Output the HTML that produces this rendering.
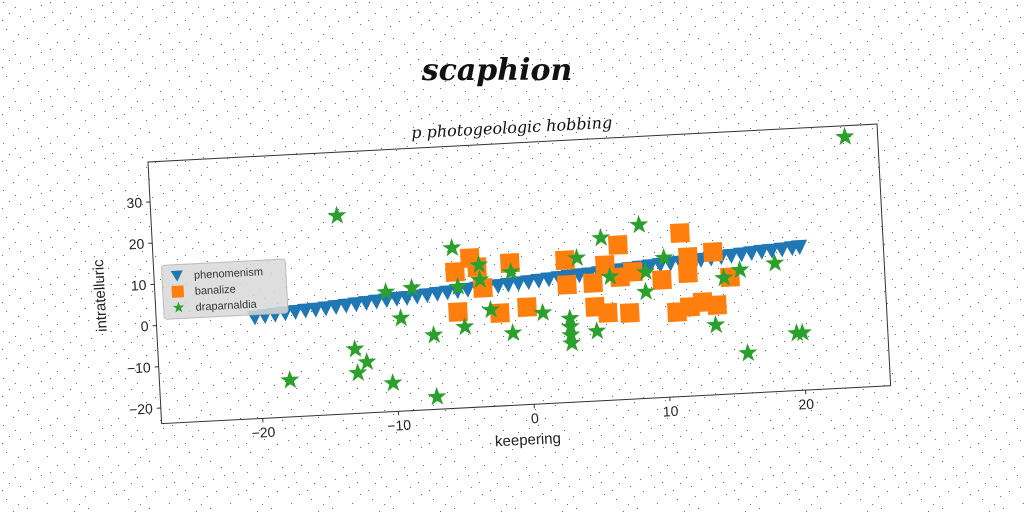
<!DOCTYPE html>
<html><head><meta charset="utf-8"><style>
html,body{margin:0;padding:0;background:#fff;}
svg{display:block;font-family:"Liberation Sans","DejaVu Sans",sans-serif;}
</style></head><body>
<svg id="chart" width="1024" height="512" viewBox="0 0 1024 512" xmlns="http://www.w3.org/2000/svg">
<defs>
<pattern id="noise" width="61" height="47" patternUnits="userSpaceOnUse">
<rect x="3" y="2" width="1" height="1" fill="#000"/><rect x="15" y="7" width="1" height="1" fill="#000"/>
<rect x="9" y="13" width="1" height="1" fill="#000"/><rect x="20" y="16" width="1" height="1" fill="#000"/>
<rect x="6" y="29" width="1" height="1" fill="#000"/><rect x="41" y="5" width="1" height="1" fill="#000"/>
<rect x="33" y="21" width="1" height="1" fill="#000"/><rect x="52" y="12" width="1" height="1" fill="#000"/>
<rect x="27" y="38" width="1" height="1" fill="#000"/><rect x="47" y="33" width="1" height="1" fill="#000"/>
<rect x="57" y="42" width="1" height="1" fill="#000"/><rect x="13" y="41" width="1" height="1" fill="#000"/>
<rect x="38" y="44" width="1" height="1" fill="#000"/><rect x="24" y="26" width="1" height="1" fill="#000"/>
<rect x="55" y="24" width="1" height="1" fill="#000"/><rect x="44" y="17" width="1" height="1" fill="#000"/>
<rect x="2" y="20" width="1" height="1" fill="#000"/><rect x="30" y="9" width="1" height="1" fill="#000"/>
<rect x="18" y="34" width="1" height="1" fill="#000"/><rect x="50" y="2" width="1" height="1" fill="#000"/>
</pattern>
</defs>
<rect width="1024" height="512" fill="#fff"/>
<rect width="1024" height="512" fill="url(#noise)" opacity="0.6"/>
<text x="497" y="80" text-anchor="middle" font-family="DejaVu Serif, serif" font-style="italic" font-weight="bold" font-size="30" fill="#111">scaphion</text>
<g id="axes" transform="translate(148,162) rotate(-2.98)"></g>
</svg>
<script>
const blueX=[-20.2,-19.45,-18.7,-17.95,-17.2,-16.45,-15.7,-14.95,-14.2,-13.45,-12.7,-11.95,-11.2,-10.45,-9.7,-8.95,-8.2,-7.45,-6.7,-5.95,-5.2,-4.45,-3.7,-2.95,-2.2,-1.45,-0.7,0.05,0.8,1.55,2.3,3.05,3.8,4.55,5.3,6.05,6.8,7.55,8.3,9.05,9.8,10.55,11.3,12.05,12.8,13.55,14.3,15.05,15.8,16.55,17.3,18.05,18.8,19.55,20.1];
const blueY=[1.0,1.2,1.4,1.6,1.8,2.0,2.1,2.3,2.5,2.7,2.9,3.1,3.3,3.5,3.7,3.8,4.0,4.2,4.4,4.6,4.8,5.0,5.2,5.4,5.5,5.7,5.9,6.1,6.3,6.5,6.7,6.9,7.1,7.2,7.4,7.6,7.8,8.0,8.2,8.4,8.6,8.8,8.9,9.1,9.3,9.5,9.7,9.9,10.1,10.3,10.5,10.6,10.8,11.0,11.15];
const orangeX=[-4.16,-5.31,-3.32,-3.68,-5.24,-2.17,-1.24,-0.15,2.82,2.87,4.79,5.74,6.77,6.79,7.77,4.85,5.77,7.38,9.87,11.37,11.87,11.8,10.85,11.82,12.79,13.82,13.72,14.88];
const orangeY=[12.4,9.2,5.0,10.1,-0.5,-1.3,10.7,-0.2,10.7,4.7,4.8,9.0,13.7,5.9,7.0,-1.0,-2.6,-2.9,4.7,15.8,9.9,6.0,-3.3,-2.2,-1.2,-2.1,10.8,4.5];
const greenX=[23.86,-13.77,-17.85,-12.95,-12.83,-12.12,-10.29,-7.11,-7.10,-9.46,-10.46,-8.54,-5.44,-3.53,-3.51,-5.15,-4.79,-2.82,-1.2,-1.28,0.99,2.97,2.97,2.97,3.0,3.70,4.90,5.54,6.06,8.39,8.64,8.7,10.1,13.66,14.43,15.64,15.91,18.23,19.58,20.0];
const greenY=[37.0,24.3,-14.9,-8.2,-14.0,-11.5,-16.9,-20.8,-5.8,-1.3,5.2,5.9,15.05,10.6,7.0,5.6,-4.2,-0.4,8.5,-6.3,-1.8,-3.5,-5.5,-7.5,-9.5,11.05,-6.9,15.6,6.1,18.3,2.0,6.8,10.0,-6.9,4.4,6.1,-14.1,7.3,-9.9,-9.9];
const xTicks=[-20,-10,0,10,20];
const yTicks=[-20,-10,0,10,20,30];
const seriesNames=["phenomenism","banalize","draparnaldia"];

const NS="http://www.w3.org/2000/svg";
const W=730,H=262,XMIN=-27.45,XMAX=26.27,YMIN=-23.8,YMAX=39.7;
const sx=x=>(x-XMIN)/(XMAX-XMIN)*W;
const sy=y=>(YMAX-y)/(YMAX-YMIN)*H;
const ax=document.getElementById('axes');
function mk(tag,attrs,parent){const e=document.createElementNS(NS,tag);for(const k in attrs)e.setAttribute(k,attrs[k]);(parent||ax).appendChild(e);return e;}
function starPts(cx,cy,R){let p=[];for(let i=0;i<10;i++){const r=i%2?R*0.4:R;const a=-Math.PI/2+i*Math.PI/5;p.push((cx+r*Math.cos(a)).toFixed(1)+','+(cy+r*Math.sin(a)).toFixed(1));}return p.join(' ');}

const bg=mk('rect',{x:0,y:0,width:W,height:H,fill:'none'});



const gB=mk('g',{});


blueX.forEach((x,i)=>{const cx=sx(x),cy=sy(blueY[i]);
 const t=mk('polygon',{points:`${cx-8},${cy-6} ${cx+8},${cy-6} ${cx},${cy+9}`,fill:'#1f77b4'},gB);
 
 });
const gO=mk('g',{});


orangeX.forEach((x,i)=>{const cx=sx(x),cy=sy(orangeY[i]);
 const r=mk('rect',{x:cx-9.5,y:cy-9.5,width:19,height:19,fill:'#ff7f0e'},gO);
 
 });
const gG=mk('g',{});


greenX.forEach((x,i)=>{const s=mk('polygon',{points:starPts(sx(x),sy(greenY[i]),10),fill:'#2ca02c'},gG);
 
 });

const fr=mk('rect',{x:0,y:0,width:W,height:H,fill:'none',stroke:'#333','stroke-width':1});



xTicks.forEach(v=>{const x=sx(v);
 mk('line',{x1:x,y1:H,x2:x,y2:H+4,stroke:'#333'});
 const t=mk('text',{x:x,y:H+19,'text-anchor':'middle','font-size':14,fill:'#222'});
 t.textContent=String(v).replace('-','\u2212');
 
 });
yTicks.forEach(v=>{const y=sy(v);
 mk('line',{x1:0,y1:y,x2:-4,y2:y,stroke:'#333'});
 const t=mk('text',{x:-8,y:y+5,'text-anchor':'end','font-size':14,fill:'#222'});
 t.textContent=String(v).replace('-','\u2212');
 
 });

const xl=mk('text',{x:W/2,y:H+40,'text-anchor':'middle','font-size':15,fill:'#222'});
xl.textContent='keepering';


const yl=mk('text',{x:0,y:0,'text-anchor':'middle','font-size':15,fill:'#222',transform:`translate(-50,${H/2}) rotate(-90)`});
yl.textContent='intratelluric';


const tt=mk('text',{x:W/2,y:-10,'text-anchor':'middle','font-size':16,'font-style':'italic','font-family':'DejaVu Serif, serif',fill:'#111'});
tt.textContent='p photogeologic hobbing';



const lg=mk('g',{transform:'translate(8,104)'});


mk('rect',{x:0,y:0,width:124,height:54,rx:3,fill:'#d8d8d8','fill-opacity':0.85,stroke:'#bbb'},lg);
seriesNames.forEach((n,i)=>{const y=11+i*16;
 if(i==0)mk('polygon',{points:`9,${y-5} 21,${y-5} 15,${y+6}`,fill:'#1f77b4'},lg);
 if(i==1)mk('rect',{x:9,y:y-6,width:12,height:12,fill:'#ff7f0e'},lg);
 if(i==2)mk('polygon',{points:starPts(15,y,6),fill:'#2ca02c'},lg);
 const t=mk('text',{x:32,y:y+4,'font-size':11,fill:'#333'},lg);
 t.textContent=n;
 
 });
</script>
</body></html>
